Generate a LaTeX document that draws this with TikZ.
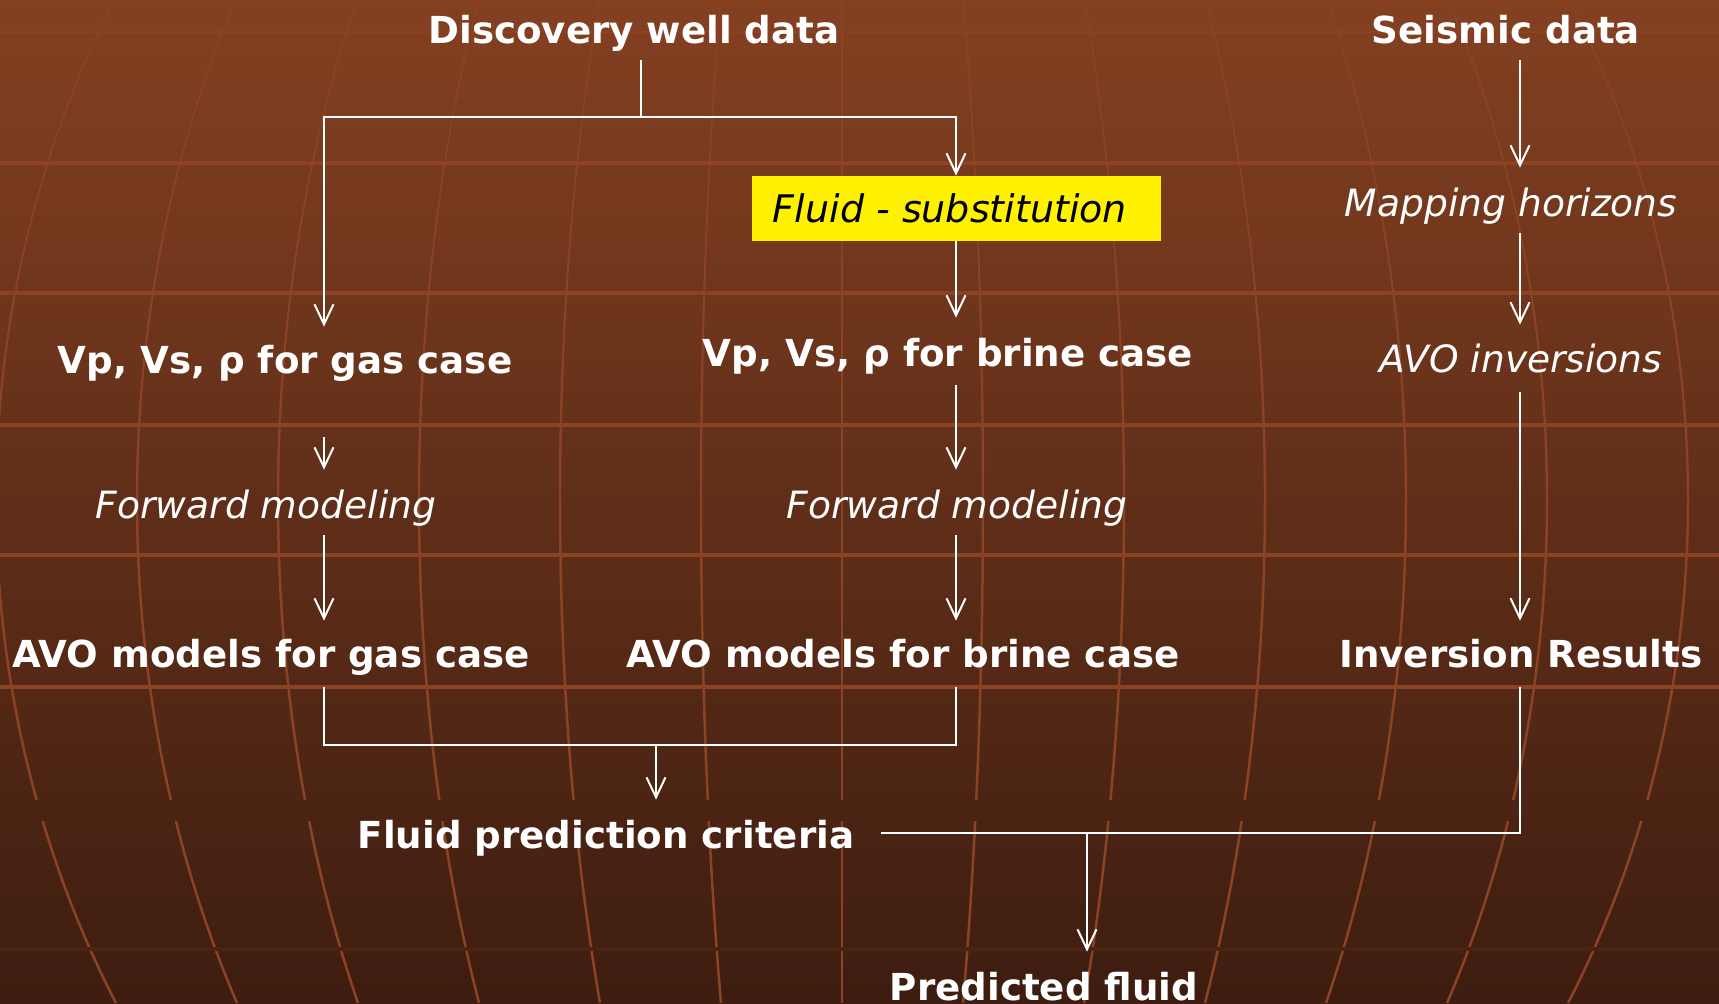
\documentclass[tikz,border=0pt]{standalone}
\usepackage{fontspec}
\setmainfont{DejaVu Sans}
\usetikzlibrary{arrows.meta}
\definecolor{bgtop}{HTML}{844021}
\definecolor{bgmid}{HTML}{69321C}
\definecolor{bgbot}{HTML}{3D1D10}
\definecolor{gridc}{HTML}{8C4325}
\definecolor{bandc}{HTML}{4A2313}
\begin{document}
\begin{tikzpicture}[x=0.5pt,y=-0.5pt,
  grid/.style={draw=gridc},
  hgrid/.style={draw=gridc, line width=2pt},
  wire/.style={draw=white, line width=1pt},
  arr/.style={wire, -{Straight Barb[length=10pt,width=9.5pt]}},
  head/.style={text=white, font=\bfseries\fontsize{18.6}{22}\selectfont,
    inner sep=0pt, anchor=base, text height=14pt, text depth=0pt},
  step label/.style={text=white, font=\itshape\fontsize{18.8}{22}\selectfont,
    inner sep=0pt, anchor=base, text height=14pt, text depth=0pt},
  hilite/.style={fill=yellow, text=black, font=\itshape\fontsize{19}{22}\selectfont,
    inner sep=0pt, minimum width=204.5pt, minimum height=32.5pt}]

% background: vertical gradient
\shade[top color=bgtop, middle color=bgmid, bottom color=bgbot]
  (0,0) rectangle (1719,1003);
\useasboundingbox (0,0) rectangle (1719,1003);

% globe-like grid: horizontal parallels
\draw[hgrid, line width=1.3pt] (0,32) -- (1719,32);
\draw[hgrid, line width=1.6pt] (0,163) -- (1719,163);
\foreach \yy in {293,425,555,687}
  \draw[hgrid] (0,\yy) -- (1719,\yy);
% meridians bowing outwards around the centre line, thinner towards the top
\foreach \k in {-6,...,6}{
  \foreach \a in {0,50,...,750}{
    \pgfmathsetmacro{\b}{min(\a+50,813)}
    \pgfmathsetmacro{\lw}{0.6+0.65*min(1,(\a+25)/500)}
    \draw[grid, line width=\lw pt] plot[domain=\a:\b, samples=4, variable=\t]
      ({842+(\k)*141*sqrt(1-((\t-500)/980)^2)}, {\t});
  }
  \draw[grid, line width=1.25pt] plot[domain=821:1003, samples=12, variable=\t]
    ({842+(\k)*141*sqrt(1-((\t-500)/980)^2)}, {\t});
}
\draw[draw=bandc, line width=2pt] (0,949) -- (1719,949);

% column positions of the connectors
\coordinate (colL) at (324,0);
\coordinate (colM) at (956,0);
\coordinate (colR) at (1520,0);
\coordinate (colC) at (656,0);
\coordinate (colP) at (1087,0);
\coordinate (split) at (641,117);

% labels
\node[head] (disc) at (634,43) {Discovery well data};
\node[head] (seis) at (1506,43) {Seismic data};
\node[hilite] (fsub) at (956,208.5) {Fluid - substitution\hspace*{6pt}};
\node[step label] (mapz) at (1511,216) {Mapping horizons};
\node[head] (gas) at (285,373) {Vp, Vs, ρ for gas case};
\node[head] (brine) at (948,366) {Vp, Vs, ρ for brine case};
\node[step label] (avoinv) at (1521,372) {AVO inversions};
\node[step label] (fwdL) at (266,518) {Forward modeling};
\node[step label] (fwdR) at (957,518) {Forward modeling};
\node[head] (avoG) at (271,667) {AVO models for gas case};
\node[head] (avoB) at (903,667) {AVO models for brine case};
\node[head] (invres) at (1521,667) {Inversion Results};
\node[head] (fpc) at (606,848) {Fluid prediction criteria};
\node[head] (pred) at (1044,1000) {Predicted fluid};

% connector end points next to the labels
\coordinate (discOut) at ([yshift=-8.5pt]disc.south);
\coordinate (gasIn) at ([yshift=9pt]gas.north);
\coordinate (gasOut) at ([yshift=-32pt]gas.south);
\coordinate (brineIn) at ([yshift=10pt]brine.north);
\coordinate (brineOut) at ([yshift=-9.5pt]brine.south);
\coordinate (fwdLIn) at ([yshift=10pt]fwdL.north);
\coordinate (fwdLOut) at ([yshift=-8.5pt]fwdL.south);
\coordinate (fwdRIn) at ([yshift=10pt]fwdR.north);
\coordinate (fwdROut) at ([yshift=-8.5pt]fwdR.south);
\coordinate (avoGIn) at ([yshift=9pt]avoG.north);
\coordinate (avoGOut) at ([yshift=-10pt]avoG.south);
\coordinate (avoBIn) at ([yshift=9pt]avoB.north);
\coordinate (avoBOut) at ([yshift=-10pt]avoB.south);
\coordinate (seisOut) at ([yshift=-8.5pt]seis.south);
\coordinate (mapzIn) at ([yshift=10pt]mapz.north);
\coordinate (mapzOut) at ([yshift=-8.5pt]mapz.south);
\coordinate (avoinvIn) at ([yshift=9.5pt]avoinv.north);
\coordinate (avoinvOut) at ([yshift=-10pt]avoinv.south);
\coordinate (invIn) at ([yshift=9pt]invres.north);
\coordinate (invOut) at ([yshift=-10pt]invres.south);
\coordinate (fpcIn) at ([yshift=10pt]fpc.north);
\coordinate (fpcOut) at ([xshift=13pt,yshift=0.5pt]fpc.east);
\coordinate (predIn) at ([yshift=10pt]pred.north);
\coordinate (merge) at (656,745);

% well-data branch
\draw[wire] (split |- discOut) -- (split);
\draw[arr] (split) -| (colL |- gasIn);
\draw[arr] (split) -| (fsub.north);
\draw[arr] (fsub.south) -- (colM |- brineIn);
\draw[arr] (colL |- gasOut) -- (colL |- fwdLIn);
\draw[arr] (colM |- brineOut) -- (colM |- fwdRIn);
\draw[arr] (colL |- fwdLOut) -- (colL |- avoGIn);
\draw[arr] (colM |- fwdROut) -- (colM |- avoBIn);
\draw[wire] (colL |- avoGOut) |- (colM |- merge) -- (colM |- avoBOut);
\draw[arr] (merge) -- (colC |- fpcIn);

% seismic branch
\draw[arr] (colR |- seisOut) -- (colR |- mapzIn);
\draw[arr] (colR |- mapzOut) -- (colR |- avoinvIn);
\draw[arr] (colR |- avoinvOut) -- (colR |- invIn);

% combination into the prediction
\draw[wire] (fpcOut) -| (colR |- invOut);
\draw[arr] (colP |- fpcOut) -- (colP |- predIn);
\end{tikzpicture}
\end{document}
